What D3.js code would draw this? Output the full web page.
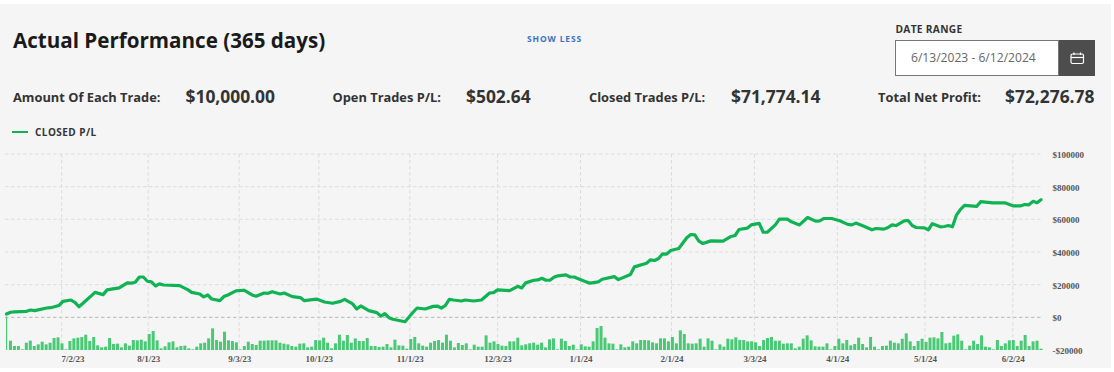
<!DOCTYPE html>
<html><head><meta charset="utf-8">
<style>
html,body{margin:0;padding:0;background:#fff;overflow:hidden}
svg{display:block}
text{font-family:"Open Sans","Noto Sans",sans-serif}
</style>
<script src="https://cdn.jsdelivr.net/npm/d3@7"></script>
</head><body><svg id="c" width="1114" height="372"></svg>
<script>
const title = "Actual Performance (365 days)";
const toggleLabel = "SHOW LESS";
const dateRangeLabel = "DATE RANGE";
const dateRangeValue = "6/13/2023 - 6/12/2024";
const statLabels = ["Amount Of Each Trade:", "Open Trades P/L:", "Closed Trades P/L:", "Total Net Profit:"];
const statValues = ["$10,000.00", "$502.64", "$71,774.14", "$72,276.78"];
const seriesName = "CLOSED P/L";
const yTicks = [-20000, 0, 20000, 40000, 60000, 80000, 100000];
const xTickSessions = [13.7, 35.2, 57.8, 77.6, 100.2, 122, 142.6, 165.2, 185.8, 206.4, 228.2, 250];
const xLabelSessions = [16.4, 35.2, 57.8, 77.6, 100.2, 122, 142.6, 165.2, 185.8, 206.4, 228.2, 250];
const xTickLabels = ["7/2/23","8/1/23","9/3/23","10/1/23","11/1/23","12/3/23","1/1/24","2/1/24","3/3/24","4/1/24","5/1/24","6/2/24"];
const plSessions = [0,1,2,5,6,7,10,11,13,14,16,17,18,19,22,24,25,28,30,31,32,33,34,35,36,37,38,39,43,45,46,48,49,50,51,53,54,55,57,59,61,62,64,65,66,68,69,71,73,74,77,79,81,83,84,86,87,88,90,92,93,94,95,96,99,101,102,104,106,107,108,109,110,111,113,114,116,118,120,121,122,125,127,128,129,131,132,133,134,135,136,137,139,140,141,143,144,145,147,148,151,152,155,156,159,160,161,162,163,164,165,167,169,170,171,172,173,175,178,180,181,182,184,185,187,188,189,191,192,194,195,197,199,201,202,203,205,207,209,210,211,213,215,216,218,219,220,221,223,224,225,226,228,229,230,232,233,234,235,236,237,238,241,242,245,248,250,252,253,254,255,256,257];
const plValues = [2000,3100,3300,3700,4500,4100,5700,5900,7200,9800,10600,9200,6500,8600,15300,13900,16800,18000,21100,20900,21500,24700,24700,22100,21700,19200,20500,19800,19400,17000,15300,14300,12500,13700,11200,10200,12700,13700,16200,16600,13700,12900,14900,14700,15700,14300,14900,12700,12100,10200,11200,9400,8600,9800,11000,8200,5100,7000,4100,2900,800,2200,-200,-1200,-2700,3100,5700,5100,6700,6900,5700,7200,11000,10600,10000,10600,10000,10600,14900,15100,16800,16400,19000,18000,21100,22700,22900,23900,22700,22700,24500,25400,26000,24700,24700,22700,21700,20900,21700,23300,24900,23100,26200,30900,33100,35200,34800,36000,38900,38700,40900,42100,48700,50700,50500,46600,45200,46800,46600,49500,50100,53800,54600,56600,57500,52100,52100,56600,60100,60100,58500,56600,61100,58900,59100,60500,60500,59100,56900,56600,57700,55800,53600,54400,54000,55000,56600,56200,59100,59300,56200,55000,54800,53600,57300,55400,55600,56200,55400,62600,66100,68500,67900,70800,70100,70100,68300,68300,69100,68900,71000,70100,72000];
const barValues = [100,28,12,12,2,22,28,12,17,25,17,22,36,38,20,2,27,35,37,39,46,27,39,14,8,10,36,18,19,8,20,13,30,29,31,26,48,57,29,5,11,23,26,8,12,13,5,2,10,20,22,35,65,30,25,55,29,27,23,2,12,25,18,15,28,28,29,29,29,22,
19,17,12,10,19,20,8,10,30,29,37,22,5,20,46,28,45,22,35,27,27,36,12,12,9,10,18,8,31,14,13,4,33,39,20,13,10,22,27,30,22,46,28,8,21,15,20,2,16,10,10,44,22,26,18,13,12,26,26,37,14,17,20,22,16,22,8,32,35,2,
34,27,12,16,2,17,11,10,26,66,72,37,20,19,2,17,8,10,26,20,30,30,29,23,20,35,35,26,39,20,59,48,20,19,20,34,10,35,28,2,17,10,34,32,38,30,30,26,26,23,12,30,36,39,28,28,19,20,20,5,10,34,44,29,11,10,10,20,2,12,34,
20,30,14,18,37,18,8,39,10,2,12,13,28,22,20,34,50,26,12,27,34,24,37,38,35,54,20,22,43,47,28,2,13,28,18,44,10,8,2,30,12,20,29,30,12,28,45,12,26,28,4];
const bg = "#f5f5f5", green = "#10b354", barGreen = "#4ac975", gridC = "#dcdcdc", zeroC = "#b9b9b9";
const svg = d3.select("#c");
svg.append("rect").attr("y",4).attr("width",1111).attr("height",364).attr("fill",bg);

const x = d3.scaleLinear().domain([0, 257]).range([6.5, 1041]);
const xBar = d3.scaleLinear().domain([0, barValues.length-1]).range([6.5, 1041]);
const y = d3.scaleLinear().domain([-20000, 100000]).range([350, 154]);
const yBar = d3.scaleLinear().domain([0, 100]).range([350, 316.7]);

// grid
svg.append("g").selectAll("line").data(yTicks.filter(d=>d>-20000)).join("line")
  .attr("x1",5).attr("x2",1041).attr("y1",d=>y(d)).attr("y2",d=>y(d))
  .attr("stroke",d=>d===0?zeroC:gridC).attr("stroke-dasharray","3.5,2.5").attr("stroke-width",1);
svg.append("g").selectAll("line").data(xTickSessions).join("line")
  .attr("x1",d=>x(d)).attr("x2",d=>x(d)).attr("y1",154).attr("y2",350)
  .attr("stroke",gridC).attr("stroke-dasharray","3.5,2.5");

// bars
const bw = 3;
svg.append("g").selectAll("rect").data(barValues).join("rect")
  .attr("x",(d,i)=> i===0 ? xBar(0)-0.5 : xBar(i)-bw/2)
  .attr("width",(d,i)=> i===0 ? 1.2 : bw)
  .attr("y",d=>yBar(d)).attr("height",d=>350-yBar(d)).attr("fill",barGreen);

// line
const line = d3.line().x(d=>x(d[0])).y(d=>y(d[1]));
svg.append("path").datum(plSessions.map((s,i)=>[s,plValues[i]])).attr("d",line)
  .attr("fill","none").attr("stroke",green).attr("stroke-width",3.2).attr("stroke-linejoin","round").attr("stroke-linecap","round");

// axes
const xAxis = d3.axisBottom(x).tickValues(xLabelSessions).tickSize(0).tickPadding(0)
  .tickFormat((d,i)=>xTickLabels[i]);
const gx = svg.append("g").attr("transform","translate(0,354.5)").call(xAxis);
gx.select(".domain").remove();
gx.selectAll("text").attr("font-size",9).style("font-family","'Liberation Serif',serif").attr("font-weight",700).attr("fill","#555").attr("y",1);
const fmtY = d => (d<0?"-$":"$")+Math.abs(d);
const yAxis = d3.axisRight(y).tickValues(yTicks).tickSize(0).tickPadding(0).tickFormat(fmtY);
const gy = svg.append("g").attr("transform","translate(1052.5,0.7)").call(yAxis);
gy.select(".domain").remove();
gy.selectAll("text").attr("font-size",9).style("font-family","'Liberation Serif',serif").attr("font-weight",700).attr("fill","#555");

// header
const T=(s,xp,yp,size,weight,fill,anchor,extra)=>{const t=svg.append("text").attr("x",xp).attr("y",yp).attr("font-size",size).attr("font-weight",weight).attr("fill",fill).attr("text-anchor",anchor||"start").text(s);if(extra)t.attr("letter-spacing",extra);return t;};
T(title,13,48,20.6,700,"#1a1a1a");
T(toggleLabel,527,42,8.5,700,"#3c72c4","start",0.85);
T(dateRangeLabel,895.5,33,10.2,700,"#333","start",0.3);
svg.append("rect").attr("x",895.5).attr("y",40.5).attr("width",163).attr("height",35).attr("fill","#fff").attr("stroke","#777");
svg.append("rect").attr("x",1059).attr("y",40).attr("width",36).attr("height",36).attr("fill","#4d4d4d");
T(dateRangeValue,911,62,12.1,400,"#666");
const cal=svg.append("g").attr("fill","none").attr("stroke","#fff").attr("stroke-width",1.2);
cal.append("rect").attr("x",1071).attr("y",54).attr("width",12.5).attr("height",9.5).attr("rx",1.5);
cal.append("path").attr("d",d3.line()([[1071,57.5],[1083.5,57.5]]));
cal.append("path").attr("d",d3.line()([[1074,52.5],[1074,55]]));
cal.append("path").attr("d",d3.line()([[1080.5,52.5],[1080.5,55]]));
const labelX=[13,332.5,589,878], valueX=[185.5,466,731,1005];
statLabels.forEach((s,i)=>T(s,labelX[i],102,12.85,700,"#333"));
statValues.forEach((s,i)=>T(s,valueX[i],102.5,17.4,700,"#333"));
svg.append("line").attr("x1",12).attr("x2",28).attr("y1",132).attr("y2",132).attr("stroke",green).attr("stroke-width",2);
T(seriesName,35,136,10,700,"#333","start",0.45);
</script></body></html>
